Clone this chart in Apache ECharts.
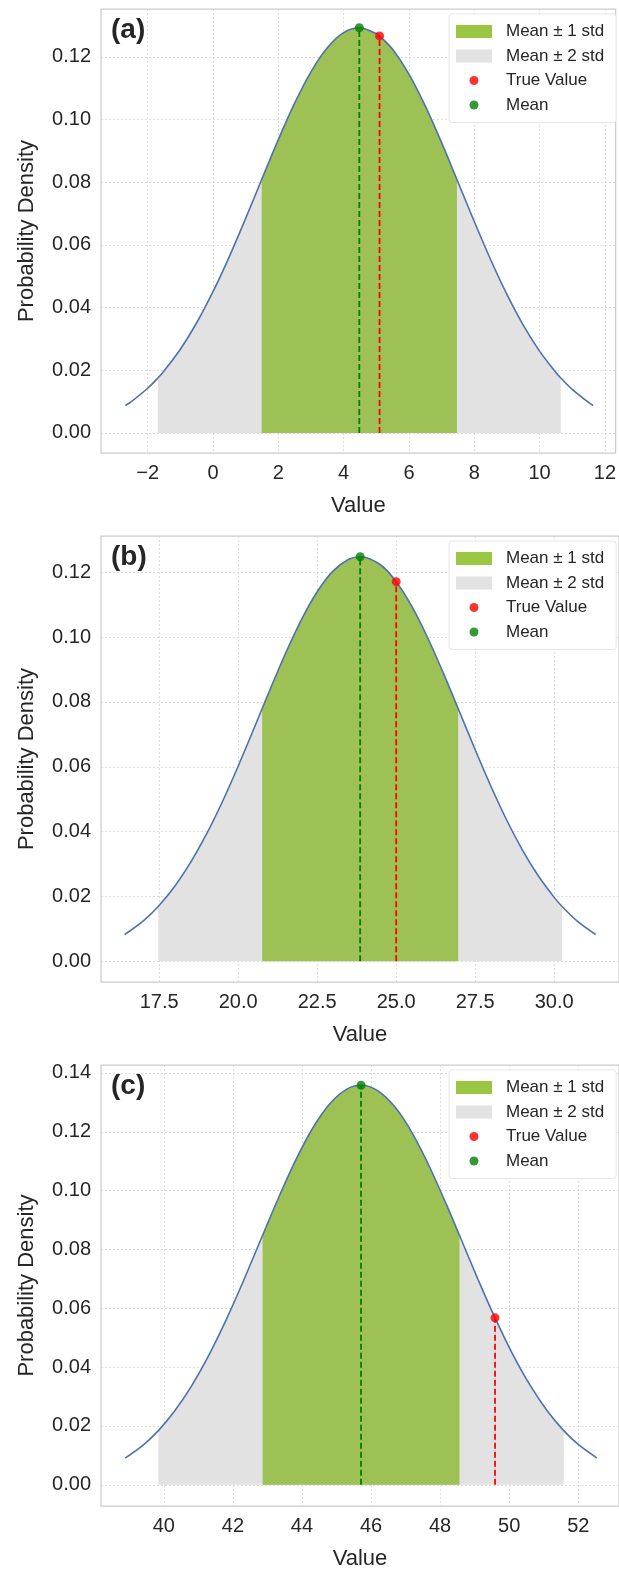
<!DOCTYPE html>
<html><head><meta charset="utf-8">
<script src="https://cdn.jsdelivr.net/npm/echarts@6/dist/echarts.min.js"></script>
<style>html,body{margin:0;padding:0;background:#fff}#c{width:619px;height:1571px}</style>
</head><body><div id="c"></div>
<script>
// ---------- Panel (a) ----------
const xA = [-2.68, -2.5, -2.0, -1.69, -1.5, -1.0, -0.5, 0, 0.5, 1.0, 1.49, 2.0, 2.5, 3.0, 3.5, 4.0, 4.48, 5.0, 5.10, 5.5, 6.0, 6.5, 7.0, 7.47, 8.0, 8.5, 9.0, 9.5, 10.0, 10.5, 10.65, 11.0, 11.5, 11.64];
const yA = [0.00876, 0.01001, 0.01426, 0.01752, 0.01978, 0.02672, 0.03517, 0.04508, 0.05629, 0.06847, 0.08086, 0.09362, 0.10525, 0.11525, 0.12294, 0.12775, 0.12930, 0.12748, 0.12672, 0.12243, 0.11453, 0.10437, 0.09264, 0.08086, 0.06747, 0.05535, 0.04423, 0.03444, 0.02612, 0.01929, 0.01752, 0.01388, 0.00972, 0.00876];
const meanA = [4.48, 0.12930];
const trueA = [5.10, 0.12672];
const band1A = [1.49, 7.47];
const band2A = [-1.69, 10.65];
const xTicksA = [-2, 0, 2, 4, 6, 8, 10, 12];
const yTicksA = [0, 0.02, 0.04, 0.06, 0.08, 0.10, 0.12];

// ---------- Panel (b) ----------
const xB = [16.41, 17.0, 17.47, 18.0, 18.5, 19.0, 19.5, 20.0, 20.5, 20.76, 21.0, 21.5, 22.0, 22.5, 23.0, 23.5, 23.86, 24.5, 25.0, 25.5, 26.0, 26.5, 26.96, 27.5, 28.0, 28.5, 29.0, 29.5, 30.0, 30.25, 30.75, 31.31];
const yB = [0.00825, 0.01247, 0.01691, 0.02324, 0.03058, 0.03927, 0.04922, 0.06018, 0.07182, 0.07797, 0.08362, 0.09502, 0.10535, 0.11400, 0.12036, 0.12401, 0.12480, 0.12232, 0.11711, 0.10940, 0.09974, 0.08873, 0.07797, 0.06524, 0.05393, 0.04350, 0.03424, 0.02630, 0.01971, 0.01691, 0.01222, 0.00825];
const meanB = [23.86, 0.12480];
const trueB = [25.0, 0.11711];
const band1B = [20.76, 26.96];
const band2B = [17.47, 30.25];
const xTicksB = [17.5, 20, 22.5, 25, 27.5, 30];
const yTicksB = [0, 0.02, 0.04, 0.06, 0.08, 0.10, 0.12];

// ---------- Panel (c) ----------
const xC = [38.88, 39.4, 39.84, 40.3, 40.8, 41.3, 41.8, 42.3, 42.86, 43.3, 43.8, 44.3, 44.8, 45.3, 45.71, 46.2, 46.7, 47.2, 47.7, 48.2, 48.56, 49.1, 49.59, 50.1, 50.6, 51.1, 51.58, 52.0, 52.54];
const yC = [0.00909, 0.01351, 0.01843, 0.02490, 0.03357, 0.04399, 0.05598, 0.06921, 0.08481, 0.09698, 0.10991, 0.12102, 0.12943, 0.13448, 0.13580, 0.13392, 0.12830, 0.11940, 0.10795, 0.09480, 0.08481, 0.06976, 0.05675, 0.04444, 0.03396, 0.02521, 0.01843, 0.01371, 0.00909];
const meanC = [45.71, 0.13580];
const trueC = [49.59, 0.05675];
const band1C = [42.86, 48.56];
const band2C = [39.84, 51.58];
const xTicksC = [40, 42, 44, 46, 48, 50, 52];
const yTicksC = [0, 0.02, 0.04, 0.06, 0.08, 0.10, 0.12, 0.14];

const panelLabels = ['(a)', '(b)', '(c)'];
const legendNames = ['Mean ± 1 std', 'Mean ± 2 std', 'True Value', 'Mean'];

const FONT = "'Liberation Sans', Arial, Helvetica, sans-serif";
const TXT = '#262626';
const GREEN_FILL = '#9dc155';
const GREEN_LEG = '#9bc843';
const GREY_FILL = '#e2e2e2';
const BLUE = '#4c72b0';
const RED = '#ff0000';
const DGREEN = '#008000';

const panels = [
  {x: xA, y: yA, mean: meanA, tv: trueA, b1: band1A, b2: band2A, xt: xTicksA, yt: yTicksA,
   fmt: v => v < 0 ? '\u2212' + Math.abs(v) : String(v),
   top: 9, height: 444, width: 518, xmin: -3.43, xmax: 12.33, ymin: -0.0064, ymax: 0.1353},
  {x: xB, y: yB, mean: meanB, tv: trueB, b1: band1B, b2: band2B, xt: xTicksB, yt: yTicksB,
   fmt: v => v.toFixed(1),
   top: 536, height: 446, width: 520, xmin: 15.66, xmax: 32.05, ymin: -0.0064, ymax: 0.1312},
  {x: xC, y: yC, mean: meanC, tv: trueC, b1: band1C, b2: band2C, xt: xTicksC, yt: yTicksC,
   fmt: v => String(v),
   top: 1065, height: 445, width: 518, xmin: 38.18, xmax: 53.18, ymin: -0.0072, ymax: 0.1427}
];

const RECT_ICON = 'path://M0,0h36v13h-36zM45,13';
const DOT_ICON = 'path://M0,0M45,13M13.5,6.5A4.5,4.5,0,1,1,22.5,6.5A4.5,4.5,0,1,1,13.5,6.5Z';

const grid = [], xAxis = [], yAxis = [], series = [], legend = [], title = [];
const splitStyle = {show: true, lineStyle: {color: '#d6d6d6', width: 0.8, type: [2, 2]}};

panels.forEach((p, i) => {
  grid.push({left: 101, top: p.top, width: p.width, height: p.height, show: true,
    borderColor: '#cccccc', borderWidth: 1.25, backgroundColor: 'transparent'});
  xAxis.push({type: 'value', gridIndex: i, min: p.xmin, max: p.xmax,
    name: 'Value', nameLocation: 'middle', nameGap: 42,
    nameTextStyle: {fontSize: 22, color: TXT, fontFamily: FONT},
    axisLine: {show: false}, axisTick: {show: false, customValues: p.xt},
    axisLabel: {customValues: p.xt, formatter: p.fmt, fontSize: 20, color: TXT, fontFamily: FONT, margin: 10},
    splitLine: splitStyle});
  yAxis.push({type: 'value', gridIndex: i, min: p.ymin, max: p.ymax,
    name: 'Probability Density', nameLocation: 'middle', nameGap: 63,
    nameTextStyle: {fontSize: 22, color: TXT, fontFamily: FONT},
    axisLine: {show: false}, axisTick: {show: false, customValues: p.yt},
    axisLabel: {customValues: p.yt, formatter: v => v.toFixed(2), fontSize: 20, color: TXT, fontFamily: FONT, margin: 10},
    splitLine: splitStyle});

  const pts = p.x.map((v, k) => [v, p.y[k]]);
  const within = (lo, hi) => pts.filter(q => q[0] >= lo - 1e-9 && q[0] <= hi + 1e-9);

  series.push({type: 'line', name: legendNames[1], xAxisIndex: i, yAxisIndex: i,
    data: within(p.b2[0], p.b2[1]), smooth: 0.3, symbol: 'none', silent: true,
    lineStyle: {opacity: 0}, itemStyle: {color: GREY_FILL},
    areaStyle: {color: GREY_FILL, opacity: 1}, z: 1});
  series.push({type: 'line', name: legendNames[0], xAxisIndex: i, yAxisIndex: i,
    data: within(p.b1[0], p.b1[1]), smooth: 0.3, symbol: 'none', silent: true,
    lineStyle: {opacity: 0}, itemStyle: {color: GREEN_FILL},
    areaStyle: {color: GREEN_FILL, opacity: 1}, z: 2});
  series.push({type: 'line', name: 'mean-line-' + i, xAxisIndex: i, yAxisIndex: i,
    data: [[p.mean[0], 0], [p.mean[0], p.mean[1]]], symbol: 'none', silent: true,
    lineStyle: {color: DGREEN, width: 1.8, type: [6, 3]}, z: 3});
  series.push({type: 'line', name: 'true-line-' + i, xAxisIndex: i, yAxisIndex: i,
    data: [[p.tv[0], 0], [p.tv[0], p.tv[1]]], symbol: 'none', silent: true,
    lineStyle: {color: RED, width: 1.8, type: [6, 3]}, z: 3});
  series.push({type: 'line', name: 'pdf-' + i, xAxisIndex: i, yAxisIndex: i,
    data: pts, smooth: 0.3, symbol: 'none', silent: true,
    lineStyle: {color: BLUE, width: 1.6}, z: 4});
  series.push({type: 'scatter', name: legendNames[2], xAxisIndex: i, yAxisIndex: i,
    data: [p.tv], symbolSize: 9, itemStyle: {color: RED}, z: 5});
  series.push({type: 'scatter', name: legendNames[3], xAxisIndex: i, yAxisIndex: i,
    data: [p.mean], symbolSize: 9, itemStyle: {color: DGREEN}, z: 5});

  legend.push({orient: 'vertical', left: 449, top: p.top + 5, selectedMode: false,
    padding: [9, 12, 9, 7], itemWidth: 45, itemHeight: 13, itemGap: 7.5,
    backgroundColor: 'rgba(255,255,255,0.92)', borderColor: '#e6e6e6', borderWidth: 1, borderRadius: 3,
    textStyle: {fontSize: 17, color: TXT, fontFamily: FONT},
    data: [
      {name: legendNames[0], icon: RECT_ICON, itemStyle: {color: GREEN_LEG, borderWidth: 0}},
      {name: legendNames[1], icon: RECT_ICON, itemStyle: {color: GREY_FILL, borderWidth: 0}},
      {name: legendNames[2], icon: DOT_ICON, itemStyle: {color: RED, borderWidth: 0}},
      {name: legendNames[3], icon: DOT_ICON, itemStyle: {color: DGREEN, borderWidth: 0}}
    ]});
  title.push({text: panelLabels[i], left: 111, top: p.top + 7, padding: 0,
    textStyle: {fontSize: 28, fontWeight: 'bold', color: TXT, fontFamily: FONT}});
});

const chart = echarts.init(document.getElementById('c'), null, {renderer: 'canvas'});
chart.setOption({animation: false, backgroundColor: '#ffffff', title, legend, grid, xAxis, yAxis, series});
</script>
</body></html>
